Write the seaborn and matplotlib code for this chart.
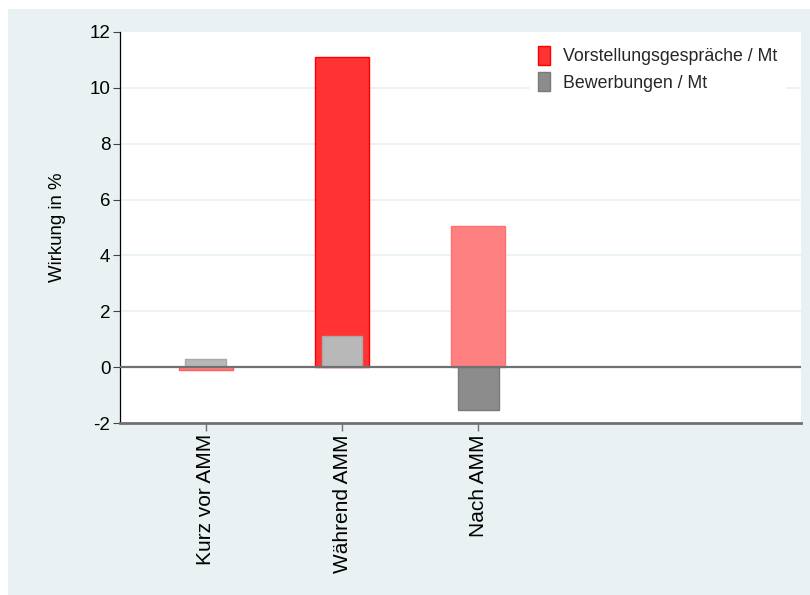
import pandas as pd
import matplotlib
matplotlib.use("Agg")
import matplotlib.pyplot as plt
import seaborn as sns
from matplotlib.patches import Rectangle, Patch

# chart values
categories = ["Kurz vor AMM", "Während AMM", "Nach AMM"]
interviews = [-0.1, 11.1, 5.05]      # Vorstellungsgespräche / Mt
applications = [0.28, 1.1, -1.55]    # Bewerbungen / Mt
y_ticks = [-2, 0, 2, 4, 6, 8, 10, 12]

# bar shades (significance style shading)
red_colors = ["#ff8080", "#ff3333", "#ff8080"]
red_edges = ["#ff5c5c", "#ff0000", "#ff7070"]
gray_colors = ["#b8b8b8", "#b8b8b8", "#8c8c8c"]
gray_edges = ["#a8a8a8", "#a8a8a8", "#7a7a7a"]

sns.set_theme(style="white")
plt.rcParams["font.family"] = ["Liberation Sans", "DejaVu Sans"]

bg = "#e9f1f3"
fig = plt.figure(figsize=(8.1, 5.95), dpi=100, facecolor="white")
fig.patches.append(Rectangle((8 / 810, 0), 1, 1 - 9 / 595, transform=fig.transFigure,
                             facecolor=bg, edgecolor="none", zorder=-10))
ax = fig.add_axes([120 / 810, 1 - 423 / 595, (801 - 120) / 810, (423 - 32) / 595])
ax.set_facecolor("white")

df = pd.DataFrame({"Zeitpunkt": categories, "interviews": interviews,
                   "applications": applications})

sns.barplot(data=df, x="Zeitpunkt", y="interviews", hue="Zeitpunkt",
            palette=red_colors, width=0.4, legend=False, ax=ax, zorder=2,
            saturation=1)
n_red = len(ax.patches)
sns.barplot(data=df, x="Zeitpunkt", y="applications", hue="Zeitpunkt",
            palette=gray_colors, width=0.3, legend=False, ax=ax, zorder=2.5,
            saturation=1)
for i, p in enumerate(ax.patches):
    if i < n_red:
        p.set_edgecolor(red_edges[i])
    else:
        p.set_edgecolor(gray_edges[i - n_red])
    p.set_linewidth(1.0)

ax.set_xlim(-0.63, 4.37)
ax.set_ylim(-2, 12)
ax.set_yticks(y_ticks)
ax.set_yticklabels([str(t) for t in y_ticks])
for t in y_ticks:
    if t not in (-2, 0, 12):
        ax.axhline(t, color=bg, lw=1.2, zorder=0)
ax.axhline(0, color="#707070", lw=1.6, zorder=3)

ax.set_xlabel("")
ax.set_ylabel("Wirkung in %", fontsize=13.4, color="black", labelpad=17)
ax.tick_params(axis="y", labelsize=13.5, length=5, width=0.8, color="#444444",
               left=True, pad=2, labelcolor="black")
ax.tick_params(axis="x", labelsize=15, length=6, width=1, color="#707070",
               bottom=True, pad=2, labelrotation=90, labelcolor="black")

for s in ["top", "right"]:
    ax.spines[s].set_visible(False)
ax.spines["left"].set_color("black")
ax.spines["left"].set_linewidth(0.9)
ax.spines["bottom"].set_color("#707070")
ax.spines["bottom"].set_linewidth(2)

handles = [Patch(facecolor="#ff3333", edgecolor="#ff0000", label="Vorstellungsgespräche / Mt"),
           Patch(facecolor="#8c8c8c", edgecolor="#7a7a7a", label="Bewerbungen / Mt")]
leg = ax.legend(handles=handles, loc="upper right", bbox_to_anchor=(0.977, 0.985),
                fontsize=12.8, frameon=True, fancybox=False, handlelength=0.67,
                handleheight=1.25, handletextpad=0.73, labelspacing=0.4,
                borderpad=0.45, borderaxespad=0)
leg.get_frame().set_facecolor("white")
leg.get_frame().set_edgecolor("white")
leg.get_frame().set_alpha(1)
leg.set_zorder(5)

fig.savefig("out.png", dpi=100, facecolor=fig.get_facecolor())
